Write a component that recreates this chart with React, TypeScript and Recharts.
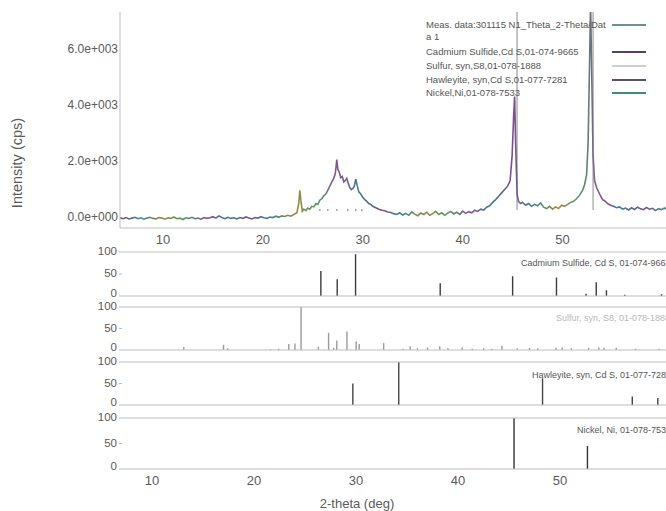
import {
  ComposedChart,
  BarChart,
  Bar,
  Line,
  Scatter,
  XAxis,
  YAxis,
  ReferenceLine,
} from "recharts";

const measured: [number, number][] = [
  [5.7, -30], [6.0, -60], [6.3, -20], [6.6, -70], [6.9, -40], [7.2, -10], [7.5, -60], [7.8, -30],
  [8.1, -80], [8.4, -40], [8.7, -10], [9.0, -50], [9.3, -70], [9.6, -20], [9.9, -40], [10.2, -80],
  [10.5, -30], [10.8, -50], [11.1, 0], [11.4, -60], [11.7, -40], [12.0, -90], [12.3, -30], [12.6, -50],
  [12.9, -10], [13.2, -60], [13.5, -40], [13.8, -80], [14.1, -20], [14.4, -50], [14.7, -30], [15.0, 10],
  [15.3, -40], [15.6, 40], [15.9, -20], [16.2, -60], [16.5, -10], [16.8, -50], [17.1, -30], [17.4, -70],
  [17.7, -20], [18.0, -50], [18.3, 0], [18.6, -40], [18.9, -70], [19.2, -20], [19.5, -40], [19.8, 10],
  [20.1, -30], [20.4, -50], [20.7, 0], [21.0, -20], [21.3, 30], [21.6, -10], [21.9, 40], [22.2, 20],
  [22.5, 60], [22.8, 30], [23.1, 90], [23.4, 150], [23.6, 500], [23.7, 950], [23.8, 600], [23.95, 200],
  [24.1, 280], [24.3, 230], [24.5, 320], [24.7, 280], [24.9, 380], [25.1, 360], [25.3, 480], [25.5, 450],
  [25.7, 600], [25.9, 650], [26.1, 760], [26.3, 820], [26.5, 950], [26.7, 1100], [26.9, 1250], [27.1, 1380],
  [27.25, 1550], [27.4, 2050], [27.5, 1700], [27.65, 1600], [27.8, 1400], [27.95, 1450], [28.1, 1250],
  [28.25, 1300], [28.4, 1380], [28.55, 1200], [28.7, 1050], [28.85, 980], [29.0, 1020], [29.15, 1100],
  [29.3, 1350], [29.45, 1100], [29.6, 900], [29.8, 820], [30.0, 700], [30.2, 620], [30.4, 560], [30.6, 480],
  [30.8, 450], [31.0, 380], [31.3, 330], [31.6, 280], [31.9, 240], [32.2, 220], [32.5, 180], [32.8, 160],
  [33.1, 120], [33.4, 90], [33.7, 150], [34.0, 70], [34.3, 130], [34.6, 60], [34.9, 180], [35.2, 100],
  [35.5, 40], [35.8, 140], [36.1, 90], [36.4, 170], [36.7, 60], [37.0, 120], [37.3, 200], [37.6, 90],
  [37.9, 150], [38.2, 60], [38.5, 140], [38.8, 200], [39.1, 110], [39.4, 170], [39.7, 90], [40.0, 210],
  [40.3, 130], [40.6, 190], [40.9, 150], [41.2, 240], [41.5, 200], [41.8, 280], [42.1, 250], [42.4, 350],
  [42.7, 400], [43.0, 520], [43.3, 620], [43.6, 740], [43.9, 860], [44.2, 980], [44.5, 1100], [44.75, 1300],
  [44.95, 2200], [45.1, 3600], [45.2, 4300], [45.3, 2600], [45.45, 800], [45.6, 550], [45.8, 480],
  [46.0, 520], [46.3, 420], [46.6, 480], [46.9, 380], [47.2, 450], [47.5, 400], [47.8, 500], [48.1, 350],
  [48.4, 300], [48.7, 380], [49.0, 280], [49.3, 360], [49.6, 300], [49.9, 420], [50.2, 380], [50.5, 450],
  [50.8, 520], [51.1, 560], [51.4, 650], [51.7, 780], [52.0, 950], [52.2, 1150], [52.4, 1500],
  [52.55, 2600], [52.7, 5500], [52.8, 7600], [52.9, 5500], [53.05, 2200], [53.2, 1300], [53.4, 1050],
  [53.6, 900], [53.8, 750], [54.0, 620], [54.2, 580], [54.5, 480], [54.8, 420], [55.1, 380], [55.4, 330],
  [55.7, 360], [56.0, 280], [56.3, 320], [56.6, 250], [56.9, 330], [57.2, 270], [57.5, 350], [57.8, 290],
  [58.1, 260], [58.4, 340], [58.7, 280], [59.0, 310], [59.3, 230], [59.6, 300], [59.9, 260], [60.2, 320],
  [60.4, 280],
];

// faint sulfur markers drawn in the top panel
const sulfurTop: [number, number][] = [
  [25.7, 250], [26.5, 250], [27.4, 250], [28.5, 250], [29.3, 250], [29.9, 240],
];

// full-height nickel lines in the top panel
const niTopLines = [45.44, 53.05];

// reference sticks [2-theta, relative intensity]
const cdsSticks: [number, number][] = [
  [26.6, 57], [28.2, 38], [30.0, 95], [38.3, 29], [45.4, 45], [49.7, 42],
  [52.6, 5], [53.6, 31], [54.6, 13], [56.4, 3], [60.0, 4],
];
const sulfurSticks: [number, number][] = [
  [13.1, 7], [17.0, 12], [17.4, 4], [21.6, 2], [22.4, 3], [23.4, 14], [24.0, 15], [24.6, 100],
  [26.3, 8], [27.3, 40], [27.8, 5], [28.1, 22], [29.1, 43], [30.0, 20], [30.3, 14], [32.7, 16],
  [34.6, 3], [35.3, 9], [36.0, 4], [37.0, 6], [38.2, 9], [39.0, 4], [40.4, 6], [41.4, 3],
  [42.5, 4], [43.3, 3], [44.3, 10], [45.8, 4], [47.0, 5], [47.8, 4], [49.6, 5], [50.2, 6],
  [51.1, 4], [52.8, 5], [53.8, 6], [54.3, 5], [55.5, 5], [57.4, 3], [59.7, 3],
];
const hawleyiteSticks: [number, number][] = [
  [29.7, 50], [34.2, 100], [48.3, 62], [57.1, 20], [59.6, 16],
];
const nickelSticks: [number, number][] = [
  [45.5, 100], [52.7, 45],
];

const legendItems = [
  { text: "Meas. data:301115 N1_Theta_2-Theta/Dat", color: "#6f8f8c", y: 25 },
  { text: "a 1", color: "", y: 37 },
  { text: "Cadmium Sulfide,Cd S,01-074-9665", color: "#5b3d6c", y: 52 },
  { text: "Sulfur, syn,S8,01-078-1888", color: "#cfcfcf", y: 66 },
  { text: "Hawleyite, syn,Cd S,01-077-7281", color: "#5d4c6a", y: 80 },
  { text: "Nickel,Ni,01-078-7533", color: "#3f8a7c", y: 93 },
];

const panels = [
  { name: "Cadmium Sulfide, Cd S, 01-074-9665", sticks: cdsSticks, color: "#3a3a3a", top: 252, h: 44, labelX: 521, labelY: 263, labelColor: "#555" },
  { name: "Sulfur, syn, S8, 01-078-1888", sticks: sulfurSticks, color: "#9a9a9a", top: 307, h: 43, labelX: 556, labelY: 318, labelColor: "#b8b8b8" },
  { name: "Hawleyite, syn, Cd S, 01-077-7281", sticks: hawleyiteSticks, color: "#444", top: 362, h: 43, labelX: 532, labelY: 375, labelColor: "#555" },
  { name: "Nickel, Ni, 01-078-7533", sticks: nickelSticks, color: "#333", top: 418, h: 43, labelX: 577, labelY: 430, labelColor: "#555" },
];

const FONT = '"Liberation Sans", Arial, sans-serif';
const TEXT = "#5a5a5a";
const AXIS = "#bdbdbd";
const palette = ["#7d4d8f", "#3e8c84", "#9c8a3e", "#4e9a63", "#8a4f96", "#3b7f94"];

const fmtExp = (v: number) => (v === 0 ? "0.0e+000" : `${(v / 1000).toFixed(1)}e+003`);

// y tick of a stick panel; the 0 label sits a little above the baseline
function PanelTick(props: any) {
  const { x, y, payload } = props;
  const shift = payload.value === 0 ? -3 : -1;
  return (
    <text
      x={x}
      y={y + shift}
      dy="0.355em"
      textAnchor="end"
      fill={TEXT}
      fontSize={11.5}
      fontFamily={FONT}
    >
      {payload.value}
    </text>
  );
}

function StickPanel({ p, last }: { p: (typeof panels)[number]; last: boolean }) {
  const data = p.sticks.map(([x, h]) => ({ x, h }));
  const axisH = last ? 32 : 0;
  return (
    <div style={{ position: "absolute", left: 0, top: p.top - 8 }}>
      <BarChart
        width={666}
        height={p.h + 16 + axisH}
        data={data}
        margin={{ top: 8, right: 0, bottom: last ? 0 : 8, left: 0 }}
      >
        <XAxis
          dataKey="x"
          type="number"
          domain={[7.06, 60.4]}
          allowDataOverflow
          ticks={[10, 20, 30, 40, 50]}
          interval={0}
          hide={!last}
          height={axisH}
          axisLine={{ stroke: AXIS }}
          tickLine={false}
          tickSize={5}
          tickMargin={2}
          tick={{ fill: TEXT, fontSize: 13, fontFamily: FONT }}
        />
        <YAxis
          type="number"
          domain={[0, 100]}
          ticks={[0, 50, 100]}
          interval={0}
          width={122}
          axisLine={false}
          tickLine={{ stroke: AXIS }}
          tickSize={3}
          tickMargin={2}
          tick={<PanelTick />}
        />
        <ReferenceLine y={100} stroke={AXIS} />
        {!last && <ReferenceLine y={0} stroke={AXIS} />}
        <Bar dataKey="h" fill={p.color} barSize={1.4} isAnimationActive={false} />
      </BarChart>
    </div>
  );
}

export default function App() {
  const measData = measured.map(([x, y]) => ({ x, y }));
  const dots = sulfurTop.map(([x, y]) => ({ x, y }));
  const stops = Array.from({ length: 26 }, (_, i) => i / 25);

  return (
    <div
      style={{
        position: "absolute",
        left: 0,
        top: 0,
        width: 666,
        height: 511,
        overflow: "hidden",
        background: "#fff",
        fontFamily: FONT,
      }}
    >
      <div style={{ position: "absolute", left: 0, top: 0 }}>
        <ComposedChart width={666} height={250} data={measData} margin={{ top: 12, right: 0, bottom: 0, left: 0 }}>
          <defs>
            <linearGradient id="measGrad" x1="0" y1="0" x2="1" y2="0">
              {stops.map((o, i) => (
                <stop key={i} offset={o} stopColor={palette[i % palette.length]} />
              ))}
            </linearGradient>
          </defs>
          <XAxis
            dataKey="x"
            type="number"
            domain={[5.7, 60.35]}
            allowDataOverflow
            ticks={[10, 20, 30, 40, 50]}
            interval={0}
            height={22}
            axisLine={{ stroke: AXIS }}
            tickLine={false}
            tickSize={5}
            tickMargin={2}
            tick={{ fill: TEXT, fontSize: 13, fontFamily: FONT }}
          />
          <YAxis
            type="number"
            domain={[-393, 7318]}
            allowDataOverflow
            ticks={[0, 2000, 4000, 6000]}
            interval={0}
            tickFormatter={fmtExp}
            width={120}
            axisLine={{ stroke: AXIS }}
            tickLine={false}
            tickSize={0}
            tickMargin={2}
            tick={{ fill: TEXT, fontSize: 12, fontFamily: FONT }}
          />
          {niTopLines.map((x) => (
            <ReferenceLine
              key={x}
              segment={[{ x, y: 250 }, { x, y: 7318 }]}
              stroke="#8a8a8a"
              strokeWidth={1}
            />
          ))}
          <Scatter
            data={dots}
            dataKey="y"
            fill="#9a9a9a"
            shape={(props: any) => <circle cx={props.cx} cy={props.cy} r={0.9} fill="#999" />}
            isAnimationActive={false}
          />
          <Line
            dataKey="y"
            stroke="url(#measGrad)"
            strokeWidth={1.6}
            dot={false}
            type="linear"
            isAnimationActive={false}
          />
        </ComposedChart>
      </div>

      {panels.map((p, i) => (
        <StickPanel key={p.name} p={p} last={i === panels.length - 1} />
      ))}

      {panels.map((p) => (
        <div
          key={"l" + p.name}
          style={{
            position: "absolute",
            left: p.labelX,
            top: p.labelY - 6,
            fontSize: 9,
            lineHeight: "12px",
            color: p.labelColor,
            whiteSpace: "nowrap",
          }}
        >
          {p.name}
        </div>
      ))}

      {legendItems.map((it) => (
        <div key={it.text}>
          <div
            style={{
              position: "absolute",
              left: 426,
              top: it.y - 6,
              fontSize: 9.5,
              lineHeight: "12px",
              color: "#555",
              whiteSpace: "nowrap",
            }}
          >
            {it.text}
          </div>
          {it.color && (
            <div
              style={{
                position: "absolute",
                left: 612,
                top: it.y - 1,
                width: 34,
                height: 2,
                background: it.color,
              }}
            />
          )}
        </div>
      ))}

      <div
        style={{
          position: "absolute",
          left: 17,
          top: 163,
          transform: "translate(-50%, -50%) rotate(-90deg)",
          fontSize: 14.5,
          color: TEXT,
          whiteSpace: "nowrap",
        }}
      >
        Intensity (cps)
      </div>
      <div
        style={{
          position: "absolute",
          left: 357,
          top: 503,
          transform: "translate(-50%, -50%)",
          fontSize: 13,
          color: TEXT,
          whiteSpace: "nowrap",
        }}
      >
        2-theta (deg)
      </div>
    </div>
  );
}
